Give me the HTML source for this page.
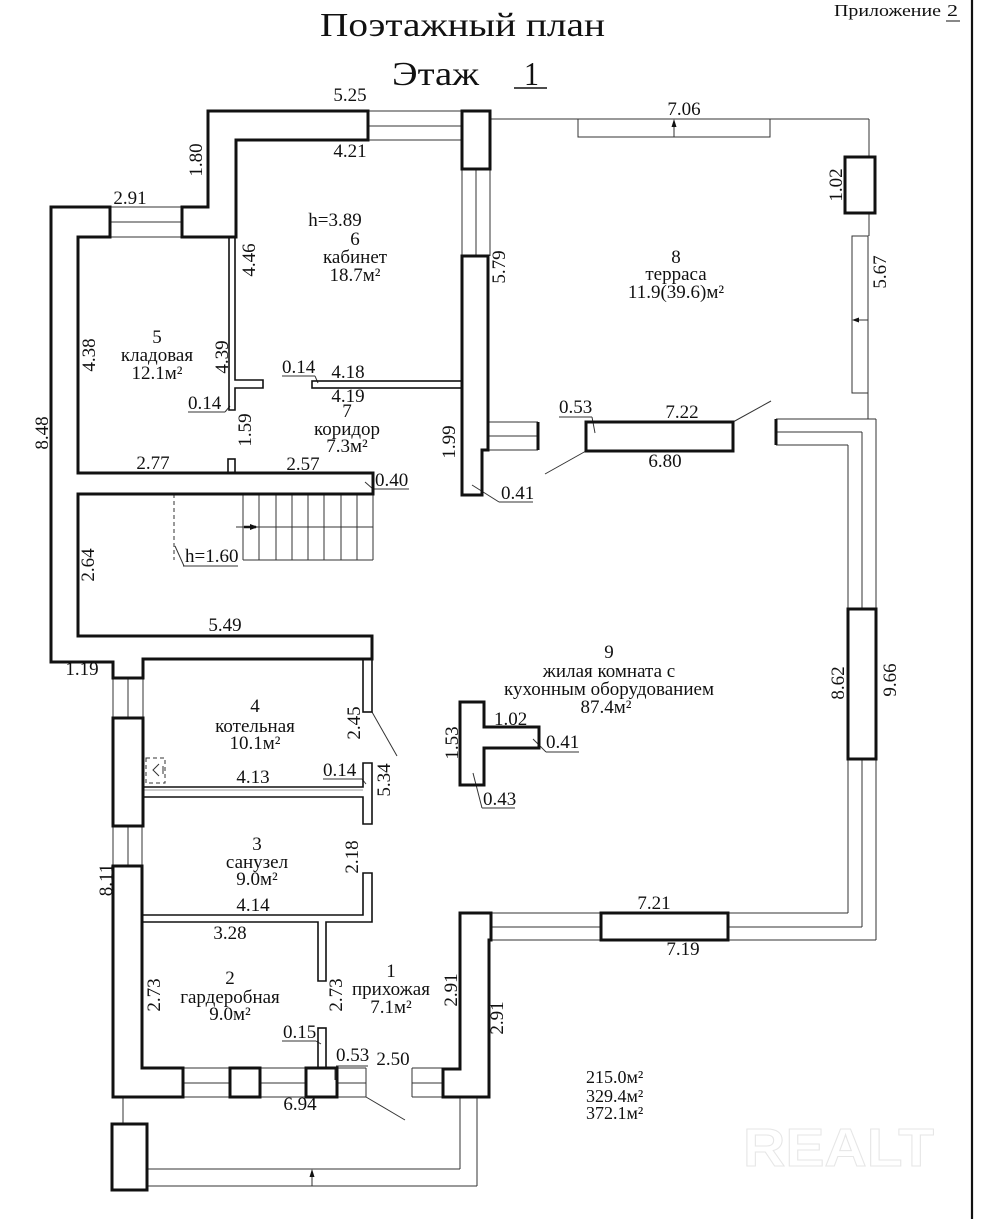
<!DOCTYPE html>
<html><head><meta charset="utf-8"><style>
html,body{margin:0;padding:0;background:#fff;}
svg{display:block;}
text{font-family:"Liberation Serif","DejaVu Serif",serif;fill:#111;}
</style></head><body>
<svg width="986" height="1219" viewBox="0 0 986 1219" xmlns="http://www.w3.org/2000/svg">
<rect x="0" y="0" width="986" height="1219" fill="#fff"/>

<!-- header -->
<text x="320" y="36" font-size="34" textLength="285" lengthAdjust="spacingAndGlyphs">Поэтажный план</text>
<text x="392" y="85" font-size="34" textLength="87" lengthAdjust="spacingAndGlyphs">Этаж</text>
<text x="524" y="85" font-size="34" textLength="15" lengthAdjust="spacingAndGlyphs">1</text>
<line x1="514" y1="88" x2="547" y2="88" stroke="#111" stroke-width="1.5"/>
<text x="834" y="16" font-size="17" textLength="107" lengthAdjust="spacingAndGlyphs">Приложение</text>
<text x="947" y="16" font-size="17" textLength="11" lengthAdjust="spacingAndGlyphs">2</text>
<line x1="946" y1="21" x2="960" y2="21" stroke="#111" stroke-width="1"/>
<line x1="972" y1="0" x2="972" y2="1219" stroke="#111" stroke-width="2.2"/>

<!-- thin lines: windows etc -->
<g stroke="#333" stroke-width="1" fill="none">
  <line x1="110" y1="207" x2="182" y2="207"/><line x1="110" y1="222" x2="182" y2="222"/><line x1="110" y1="237" x2="182" y2="237"/>
  <line x1="368" y1="111" x2="462" y2="111"/><line x1="368" y1="126" x2="462" y2="126"/><line x1="368" y1="140" x2="462" y2="140"/>
  <line x1="462" y1="169" x2="462" y2="256"/><line x1="476" y1="169" x2="476" y2="256"/><line x1="490" y1="169" x2="490" y2="256"/>
  <line x1="488" y1="422" x2="538" y2="422"/><line x1="488" y1="436" x2="538" y2="436"/><line x1="488" y1="450" x2="538" y2="450"/>
  <line x1="490" y1="119" x2="869" y2="119"/>
  <rect x="578" y="119" width="192" height="18"/>
  <line x1="674" y1="137" x2="674" y2="124"/>
  <line x1="869" y1="119" x2="869" y2="157"/>
  <line x1="869" y1="213" x2="869" y2="236"/>
  <rect x="852" y="236" width="16" height="157"/>
  <line x1="868" y1="393" x2="868" y2="419"/>
  <line x1="868" y1="320" x2="857" y2="320"/>
  <line x1="586" y1="451" x2="545" y2="474"/>
  <line x1="733" y1="422" x2="771" y2="401"/>
  <line x1="776" y1="419" x2="876" y2="419"/><line x1="776" y1="432" x2="862" y2="432"/><line x1="776" y1="445" x2="848" y2="445"/>
  <line x1="876" y1="419" x2="876" y2="609"/><line x1="862" y1="432" x2="862" y2="609"/><line x1="848" y1="445" x2="848" y2="609"/>
  <line x1="876" y1="759" x2="876" y2="940"/><line x1="862" y1="759" x2="862" y2="927"/><line x1="848" y1="759" x2="848" y2="913"/>
  <line x1="728" y1="913" x2="848" y2="913"/><line x1="728" y1="927" x2="862" y2="927"/><line x1="728" y1="940" x2="876" y2="940"/>
  <line x1="491" y1="913" x2="601" y2="913"/><line x1="491" y1="927" x2="601" y2="927"/><line x1="491" y1="940" x2="601" y2="940"/>
  <line x1="113" y1="678" x2="113" y2="718"/><line x1="128" y1="678" x2="128" y2="718"/><line x1="143" y1="678" x2="143" y2="718"/>
  <line x1="113" y1="826" x2="113" y2="866"/><line x1="128" y1="826" x2="128" y2="866"/><line x1="142" y1="826" x2="142" y2="866"/>
  <line x1="183" y1="1068" x2="230" y2="1068"/><line x1="183" y1="1083" x2="230" y2="1083"/><line x1="183" y1="1097" x2="230" y2="1097"/>
  <line x1="260" y1="1068" x2="306" y2="1068"/><line x1="260" y1="1083" x2="306" y2="1083"/><line x1="260" y1="1097" x2="306" y2="1097"/>
  <line x1="337" y1="1068" x2="366" y2="1068"/><line x1="337" y1="1083" x2="366" y2="1083"/><line x1="337" y1="1097" x2="366" y2="1097"/>
  <line x1="366" y1="1068" x2="366" y2="1097"/>
  <line x1="412" y1="1068" x2="443" y2="1068"/><line x1="412" y1="1083" x2="443" y2="1083"/><line x1="412" y1="1097" x2="443" y2="1097"/>
  <line x1="412" y1="1068" x2="412" y2="1097"/>
  <line x1="366" y1="1097" x2="405" y2="1120"/>
  <line x1="123" y1="1097" x2="123" y2="1124"/>
  <line x1="147" y1="1169" x2="460" y2="1169"/><line x1="147" y1="1186" x2="477" y2="1186"/>
  <line x1="460" y1="1097" x2="460" y2="1169"/><line x1="477" y1="1097" x2="477" y2="1186"/>
  <line x1="312" y1="1186" x2="312" y2="1174"/>
  <line x1="243" y1="494" x2="243" y2="560"/>
  <line x1="259" y1="494" x2="259" y2="560"/><line x1="276" y1="494" x2="276" y2="560"/><line x1="292" y1="494" x2="292" y2="560"/>
  <line x1="308" y1="494" x2="308" y2="560"/><line x1="324" y1="494" x2="324" y2="560"/><line x1="341" y1="494" x2="341" y2="560"/>
  <line x1="357" y1="494" x2="357" y2="560"/><line x1="373" y1="494" x2="373" y2="560"/>
  <line x1="243" y1="560" x2="373" y2="560"/>
  <line x1="236" y1="527" x2="373" y2="527"/>
  <line x1="174" y1="494" x2="174" y2="560" stroke-dasharray="4,3"/>
  <line x1="372" y1="712" x2="397" y2="756"/>
  <line x1="143" y1="790" x2="363" y2="790" stroke="#999"/>
  <rect x="146" y="758" width="19" height="25" stroke-dasharray="4,3"/>
  <polyline points="159,764 153,770 159,776"/>
  <line x1="163" y1="766" x2="163" y2="774"/>
  <line x1="188" y1="412" x2="225" y2="412"/><line x1="225" y1="412" x2="230" y2="406"/>
  <line x1="282" y1="376" x2="315" y2="376"/><line x1="315" y1="376" x2="318" y2="383"/>
  <line x1="373" y1="489" x2="409" y2="489"/><line x1="365" y1="482" x2="373" y2="489"/>
  <line x1="183" y1="566" x2="238" y2="566"/><line x1="175" y1="546" x2="184" y2="566"/>
  <line x1="323" y1="779" x2="362" y2="779"/><line x1="362" y1="779" x2="366" y2="784"/>
  <line x1="282" y1="1041" x2="316" y2="1041"/><line x1="316" y1="1041" x2="321" y2="1044"/>
  <line x1="336" y1="1066" x2="368" y2="1066"/><line x1="335" y1="1068" x2="335" y2="1080"/>
  <line x1="499" y1="502" x2="533" y2="502"/><line x1="472" y1="485" x2="499" y2="502"/>
  <line x1="559" y1="417" x2="592" y2="417"/><line x1="592" y1="417" x2="595" y2="433"/>
  <line x1="546" y1="752" x2="579" y2="752"/><line x1="533" y1="739" x2="546" y2="752"/>
  <line x1="482" y1="808" x2="515" y2="808"/><line x1="473" y1="773" x2="482" y2="808"/>
</g>
<g fill="#111">
  <polygon points="674,119 671.5,127 676.5,127"/>
  <polygon points="852,320 859,317.5 859,322.5"/>
  <polygon points="312,1169 309.5,1177 314.5,1177"/>
  <polygon points="258,527 250,524 250,530"/>
</g>
<line x1="244" y1="527" x2="256" y2="527" stroke="#111" stroke-width="2.5"/>

<!-- thick walls -->
<g stroke="#111" stroke-width="3" fill="none" stroke-linejoin="miter">
  <polygon points="51,207 110,207 110,237 78,237 78,473 373,473 373,494 78,494 78,636 372,636 372,659 143,659 143,678 113,678 113,662 51,662"/>
  <polygon points="182,207 208,207 208,111 368,111 368,140 236,140 236,237 182,237"/>
  <rect x="462" y="111" width="28" height="58"/>
  <polygon points="462,256 488,256 488,450 482,450 482,495 462,495"/>
  <line x1="538" y1="422" x2="538" y2="450"/>
  <rect x="845" y="157" width="30" height="56"/>
  <rect x="586" y="422" width="147" height="29"/>
  <line x1="776" y1="419" x2="776" y2="445"/>
  <rect x="848" y="609" width="28" height="150"/>
  <rect x="601" y="913" width="127" height="27"/>
  <polygon points="460,913 491,913 491,940 489,940 489,1097 443,1097 443,1069 460,1069"/>
  <rect x="113" y="718" width="30" height="108"/>
  <polygon points="113,866 142,866 142,1068 183,1068 183,1097 113,1097"/>
  <rect x="230" y="1068" width="30" height="29"/>
  <rect x="306" y="1068" width="31" height="29"/>
  <rect x="112" y="1124" width="35" height="66"/>
  <polygon points="460,702 484,702 484,727 539,727 539,748 484,748 484,785 460,785"/>
</g>
<g stroke="#111" stroke-width="1.6" fill="none">
  <polygon points="229,237 235,237 235,380 263,380 263,388 235,388 235,410 229,410"/>
  <rect x="312" y="381" width="150" height="7"/>
  <rect x="228" y="459" width="7" height="14"/>
  <rect x="363" y="659" width="9" height="53"/>
  <polyline points="143,787 363,787 363,763 372,763 372,824 363,824 363,797 143,797"/>
  <polyline points="142,915 363,915 363,873 372,873 372,922 326,922 326,981 318,981 318,922 142,922"/>
  <rect x="318" y="1028" width="8" height="40"/>
</g>

<!-- watermark -->
<text x="743" y="1166" font-size="54" font-weight="bold" style="fill:none;stroke:#e6e6e6;stroke-width:1;font-family:'Liberation Sans',sans-serif" textLength="191" lengthAdjust="spacingAndGlyphs">REALT</text>

<g font-size="19" text-anchor="middle">
  <text x="350" y="101">5.25</text>
  <text x="350" y="157">4.21</text>
  <text x="130" y="204">2.91</text>
  <text x="335" y="226">h=3.89</text>
  <text x="355" y="245">6</text>
  <text x="355" y="263">кабинет</text>
  <text x="355" y="281">18.7м²</text>
  <text x="157" y="343">5</text>
  <text x="157" y="361">кладовая</text>
  <text x="157" y="379">12.1м²</text>
  <text x="348" y="378">4.18</text>
  <text x="348" y="402">4.19</text>
  <text x="347" y="417">7</text>
  <text x="347" y="435">коридор</text>
  <text x="347" y="452">7.3м²</text>
  <text x="153" y="469">2.77</text>
  <text x="303" y="470">2.57</text>
  <text x="225" y="631">5.49</text>
  <text x="82" y="675">1.19</text>
  <text x="255" y="712">4</text>
  <text x="255" y="732">котельная</text>
  <text x="255" y="749">10.1м²</text>
  <text x="253" y="783">4.13</text>
  <text x="257" y="850">3</text>
  <text x="257" y="868">санузел</text>
  <text x="257" y="885">9.0м²</text>
  <text x="253" y="911">4.14</text>
  <text x="230" y="939">3.28</text>
  <text x="230" y="984">2</text>
  <text x="230" y="1003">гардеробная</text>
  <text x="230" y="1020">9.0м²</text>
  <text x="391" y="977">1</text>
  <text x="391" y="995">прихожая</text>
  <text x="391" y="1013">7.1м²</text>
  <text x="393" y="1065">2.50</text>
  <text x="300" y="1110">6.94</text>
  <text x="684" y="115">7.06</text>
  <text x="676" y="263">8</text>
  <text x="676" y="280">терраса</text>
  <text x="676" y="298">11.9(39.6)м²</text>
  <text x="682" y="418">7.22</text>
  <text x="665" y="467">6.80</text>
  <text x="609" y="658">9</text>
  <text x="609" y="677">жилая комната с</text>
  <text x="609" y="695">кухонным оборудованием</text>
  <text x="606" y="713">87.4м²</text>
  <text x="654" y="909">7.21</text>
  <text x="683" y="955">7.19</text>
</g>
<g font-size="19">
  <text x="188" y="409">0.14</text>
  <text x="282" y="373">0.14</text>
  <text x="375" y="486">0.40</text>
  <text x="185" y="562">h=1.60</text>
  <text x="323" y="776">0.14</text>
  <text x="283" y="1038">0.15</text>
  <text x="336" y="1061">0.53</text>
  <text x="501" y="499">0.41</text>
  <text x="559" y="413">0.53</text>
  <text x="494" y="725">1.02</text>
  <text x="546" y="748">0.41</text>
  <text x="483" y="805">0.43</text>
</g>
<g font-size="18">
  <text x="586" y="1083">215.0м²</text>
  <text x="586" y="1102">329.4м²</text>
  <text x="586" y="1119">372.1м²</text>
</g>

<g font-size="19" text-anchor="middle">
  <text transform="translate(202,160) rotate(-90)">1.80</text>
  <text transform="translate(255,260) rotate(-90)">4.46</text>
  <text transform="translate(228,357) rotate(-90)">4.39</text>
  <text transform="translate(95,355) rotate(-90)">4.38</text>
  <text transform="translate(48,433) rotate(-90)">8.48</text>
  <text transform="translate(251,430) rotate(-90)">1.59</text>
  <text transform="translate(455,442) rotate(-90)">1.99</text>
  <text transform="translate(505,267) rotate(-90)">5.79</text>
  <text transform="translate(842,185) rotate(-90)">1.02</text>
  <text transform="translate(886,272) rotate(-90)">5.67</text>
  <text transform="translate(94,565) rotate(-90)">2.64</text>
  <text transform="translate(360,723) rotate(-90)">2.45</text>
  <text transform="translate(390,780) rotate(-90)">5.34</text>
  <text transform="translate(458,743) rotate(-90)">1.53</text>
  <text transform="translate(844,683) rotate(-90)">8.62</text>
  <text transform="translate(896,680) rotate(-90)">9.66</text>
  <text transform="translate(112,880) rotate(-90)">8.11</text>
  <text transform="translate(358,857) rotate(-90)">2.18</text>
  <text transform="translate(160,995) rotate(-90)">2.73</text>
  <text transform="translate(342,995) rotate(-90)">2.73</text>
  <text transform="translate(457,990) rotate(-90)">2.91</text>
  <text transform="translate(503,1018) rotate(-90)">2.91</text>
</g>
</svg>
</body></html>
